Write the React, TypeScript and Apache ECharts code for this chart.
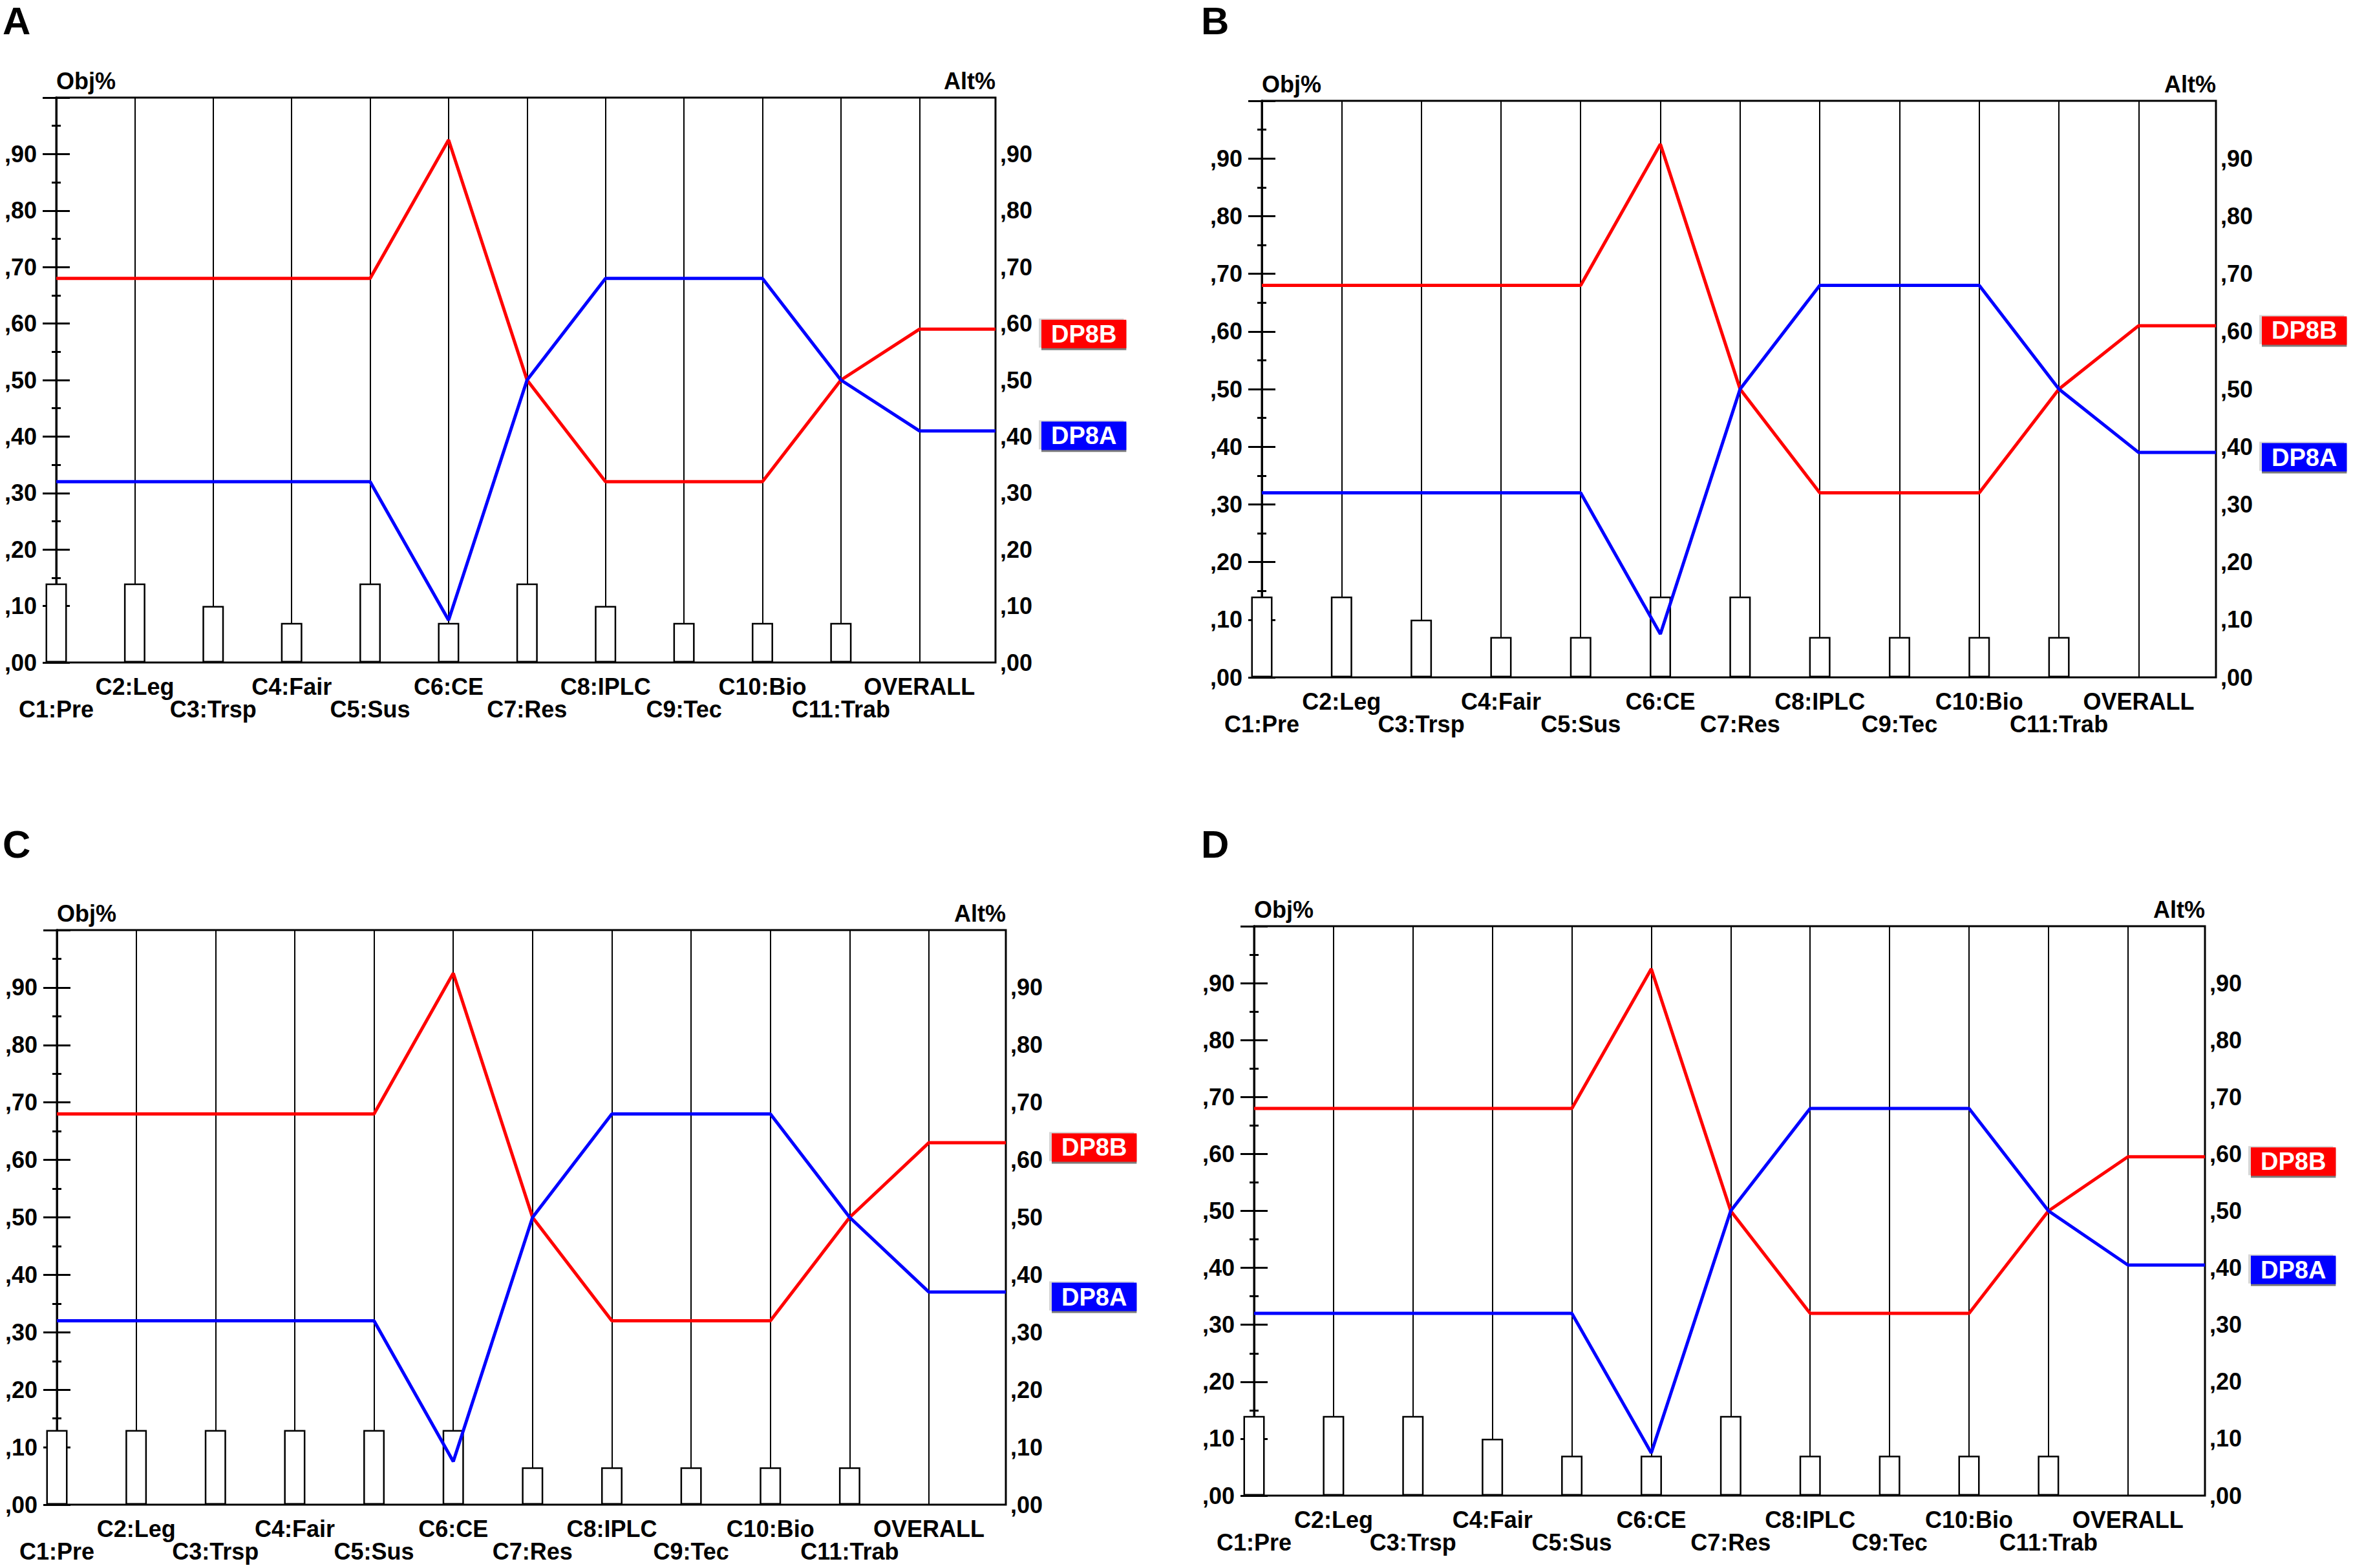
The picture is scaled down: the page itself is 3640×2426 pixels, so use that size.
import React, { useEffect, useRef } from 'react';
import * as echarts from 'echarts';

const categories = ['C1:Pre', 'C2:Leg', 'C3:Trsp', 'C4:Fair', 'C5:Sus', 'C6:CE', 'C7:Res', 'C8:IPLC', 'C9:Tec', 'C10:Bio', 'C11:Trab', 'OVERALL'];
const yTicks = [0, 0.1, 0.2, 0.3, 0.4, 0.5, 0.6, 0.7, 0.8, 0.9];
const panelLetters = ['A', 'B', 'C', 'D'];
const seriesNames = ['DP8B', 'DP8A'];
const axisNames = ['Obj%', 'Alt%'];

const dp8bA = [0.68, 0.68, 0.68, 0.68, 0.68, 0.925, 0.5, 0.32, 0.32, 0.32, 0.5, 0.59];
const dp8aA = [0.32, 0.32, 0.32, 0.32, 0.32, 0.075, 0.5, 0.68, 0.68, 0.68, 0.5, 0.41];
const weightsA = [0.14, 0.14, 0.1, 0.07, 0.14, 0.07, 0.14, 0.1, 0.07, 0.07, 0.07];

const dp8bB = [0.68, 0.68, 0.68, 0.68, 0.68, 0.925, 0.5, 0.32, 0.32, 0.32, 0.5, 0.61];
const dp8aB = [0.32, 0.32, 0.32, 0.32, 0.32, 0.075, 0.5, 0.68, 0.68, 0.68, 0.5, 0.39];
const weightsB = [0.14, 0.14, 0.1, 0.07, 0.07, 0.14, 0.14, 0.07, 0.07, 0.07, 0.07];

const dp8bC = [0.68, 0.68, 0.68, 0.68, 0.68, 0.925, 0.5, 0.32, 0.32, 0.32, 0.5, 0.63];
const dp8aC = [0.32, 0.32, 0.32, 0.32, 0.32, 0.075, 0.5, 0.68, 0.68, 0.68, 0.5, 0.37];
const weightsC = [0.13, 0.13, 0.13, 0.13, 0.13, 0.13, 0.065, 0.065, 0.065, 0.065, 0.065];

const dp8bD = [0.68, 0.68, 0.68, 0.68, 0.68, 0.925, 0.5, 0.32, 0.32, 0.32, 0.5, 0.595];
const dp8aD = [0.32, 0.32, 0.32, 0.32, 0.32, 0.075, 0.5, 0.68, 0.68, 0.68, 0.5, 0.405];
const weightsD = [0.14, 0.14, 0.14, 0.1, 0.07, 0.07, 0.14, 0.07, 0.07, 0.07, 0.07];

const panels = [
  { red: dp8bA, blue: dp8aA, weights: weightsA },
  { red: dp8bB, blue: dp8aB, weights: weightsB },
  { red: dp8bC, blue: dp8aC, weights: weightsC },
  { red: dp8bD, blue: dp8aD, weights: weightsD },
];

// layout (pixels)
const boxes = [
  { left: 87, top: 151, right: 1540, bottom: 1025, lx: 4, ly: 32 },
  { left: 1952, top: 156, right: 3428, bottom: 1048, lx: 1858, ly: 32 },
  { left: 88, top: 1439, right: 1556, bottom: 2328, lx: 4, ly: 1306 },
  { left: 1940, top: 1433, right: 3411, bottom: 2314, lx: 1858, ly: 1306 },
];
const XMAX = 11.97;
const FONT = '"Liberation Sans", Arial, Helvetica, sans-serif';

function yLabel(v: number) {
  if (v > 0.95) return '';
  const n = Math.round(v * 100);
  return ',' + String(n).padStart(2, '0');
}

function endLabel(name: string, color: string) {
  return {
    show: true,
    formatter: '{a|' + name + '}',
    distance: 71,
    offset: [0, 10],
    backgroundColor: '#7c7c7c',
    padding: [0, 0, 5, 0],
    shadowColor: '#d6d6d6',
    shadowOffsetX: -4,
    shadowOffsetY: -4,
    shadowBlur: 0,
    rich: {
      a: {
        backgroundColor: color,
        color: '#ffffff',
        fontFamily: FONT,
        fontWeight: 'bold',
        fontSize: 38,
        lineHeight: 40,
        padding: [3, 15, 3, 15],
      },
    },
  };
}

function buildOption() {
  const grid: any[] = [];
  const xAxis: any[] = [];
  const yAxis: any[] = [];
  const series: any[] = [];
  const graphic: any[] = [];
  const axisFont = { fontFamily: FONT, fontWeight: 'bold', fontSize: 36, color: '#000' };

  boxes.forEach((b, p) => {
    grid.push({
      left: b.left,
      top: b.top,
      width: b.right - b.left,
      height: b.bottom - b.top,
      show: true,
      borderColor: '#000',
      borderWidth: 3,
      backgroundColor: 'transparent',
      containLabel: false,
    });
    const xBase = {
      type: 'value',
      gridIndex: p,
      min: 0,
      max: XMAX,
      interval: 1,
      position: 'bottom',
      axisLine: { show: false },
      axisTick: { show: false },
    };
    xAxis.push({
      ...xBase,
      splitLine: { show: true, lineStyle: { color: '#000', width: 2 } },
      axisLabel: {
        ...axisFont,
        margin: 19,
        lineHeight: 36,
        showMinLabel: true,
        showMaxLabel: true,
        formatter: (v: number) => (Number.isInteger(v) && v % 2 === 1 ? categories[v] : ''),
      },
    });
    xAxis.push({
      ...xBase,
      splitLine: { show: false },
      axisLabel: {
        ...axisFont,
        margin: 54,
        lineHeight: 36,
        showMinLabel: true,
        showMaxLabel: true,
        formatter: (v: number) => (Number.isInteger(v) && v % 2 === 0 ? categories[v] : ''),
      },
    });
    const yBase = {
      type: 'value',
      gridIndex: p,
      min: 0,
      max: 1,
      interval: 0.1,
      axisLine: { show: true, lineStyle: { color: '#000', width: 3 } },
      axisTick: { show: true, inside: true, length: 21, lineStyle: { color: '#000', width: 3 } },
      minorTick: { show: true, splitNumber: 2, length: 7, lineStyle: { color: '#000', width: 3 } },
      splitLine: { show: false },
    };
    yAxis.push({
      ...yBase,
      position: 'left',
      name: axisNames[0],
      nameLocation: 'end',
      nameGap: 8,
      nameTextStyle: { ...axisFont, align: 'left', verticalAlign: 'bottom', lineHeight: 36 },
      axisLabel: { ...axisFont, margin: 30, formatter: yLabel, customValues: yTicks },
    });
    yAxis.push({
      ...yBase,
      position: 'right',
      axisLabel: { ...axisFont, margin: 7, formatter: yLabel, customValues: yTicks },
    });

    const d = panels[p];
    series.push({
      type: 'bar',
      xAxisIndex: 2 * p,
      yAxisIndex: 2 * p,
      barWidth: 33,
      data: d.weights.map((w, i) => [i, w]),
      itemStyle: { color: '#ffffff', borderColor: '#000', borderWidth: 2.5 },
      z: 2,
      silent: true,
    });
    [
      { vals: d.red, color: '#ff0000', name: seriesNames[0] },
      { vals: d.blue, color: '#0000ff', name: seriesNames[1] },
    ].forEach((s) => {
      series.push({
        type: 'line',
        name: s.name,
        xAxisIndex: 2 * p,
        yAxisIndex: 2 * p,
        data: [...s.vals.map((v, i) => [i, v]), [XMAX, s.vals[s.vals.length - 1]]],
        symbol: 'none',
        lineStyle: { color: s.color, width: 5 },
        itemStyle: { color: s.color },
        z: 3,
        silent: true,
        endLabel: endLabel(s.name, s.color),
      });
    });

    graphic.push({
      type: 'text',
      x: b.lx,
      y: b.ly,
      style: {
        text: panelLetters[p],
        fill: '#000',
        font: 'bold 60px ' + FONT,
        align: 'left',
        verticalAlign: 'middle',
      },
    });
    graphic.push({
      type: 'text',
      x: b.right,
      y: b.top - 26,
      style: {
        text: axisNames[1],
        fill: '#000',
        font: 'bold 36px ' + FONT,
        align: 'right',
        verticalAlign: 'middle',
      },
    });
  });

  return {
    animation: false,
    backgroundColor: '#ffffff',
    grid,
    xAxis,
    yAxis,
    series,
    graphic,
  };
}

export default function App() {
  const ref = useRef<HTMLDivElement>(null);
  useEffect(() => {
    if (!ref.current) return;
    const chart = echarts.init(ref.current, null, { renderer: 'svg' });
    chart.setOption(buildOption() as any);
    return () => chart.dispose();
  }, []);
  return (
    <div
      ref={ref}
      style={{ position: 'absolute', left: 0, top: 0, width: 3640, height: 2426, background: '#fff' }}
    />
  );
}
